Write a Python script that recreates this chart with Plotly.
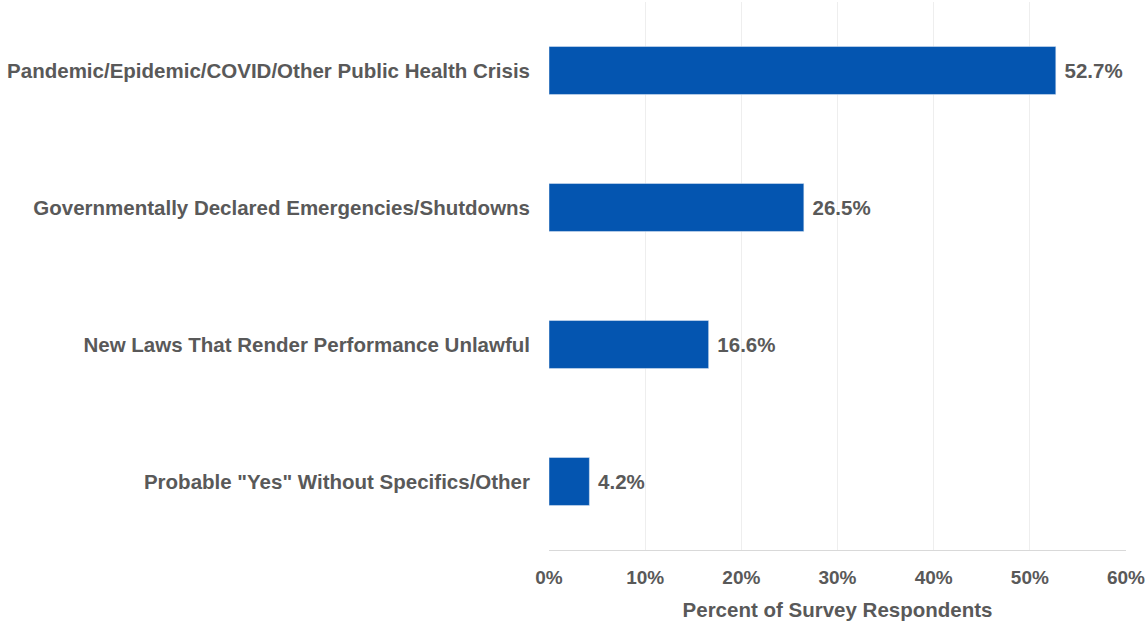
import plotly.graph_objects as go

categories = [
    "Pandemic/Epidemic/COVID/Other Public Health Crisis",
    "Governmentally Declared Emergencies/Shutdowns",
    "New Laws That Render Performance Unlawful",
    "Probable \"Yes\" Without Specifics/Other",
]
values = [52.7, 26.5, 16.6, 4.2]
tick_vals = [0, 10, 20, 30, 40, 50, 60]
tick_text = ["0%", "10%", "20%", "30%", "40%", "50%", "60%"]

FONT = "Liberation Sans, Arial, sans-serif"
GREY = "#595959"

fig = go.Figure(go.Bar(
    x=values,
    y=categories,
    orientation="h",
    width=0.35,
    marker=dict(color="#0455B0"),
    text=[f"{v:.1f}%" for v in values],
    texttemplate="<b> %{text}</b>",
    textposition="outside",
    textfont=dict(family=FONT, size=20.5, color=GREY),
    cliponaxis=False,
))

fig.update_layout(
    width=1146, height=622,
    margin=dict(l=549, r=20, t=2, b=72),
    paper_bgcolor="white", plot_bgcolor="white",
    showlegend=False,
    font=dict(family=FONT, size=18, color=GREY),
    xaxis=dict(
        range=[0, 60], tickvals=tick_vals, ticktext=[f"<b>{t}</b>" for t in tick_text],
        showgrid=True, gridcolor="#eeeeee", gridwidth=1,
        zeroline=False, showline=True, linecolor="#d9d9d9",
        tickfont=dict(family=FONT, size=19, color=GREY),
        ticks="", ticklabelstandoff=10,
        title=dict(text="<b>Percent of Survey Respondents</b>",
                   font=dict(family=FONT, size=20.5, color=GREY), standoff=15),
    ),
    yaxis=dict(
        autorange="reversed", showgrid=False, zeroline=False, showline=False,
        tickvals=categories, ticktext=[f"<b>{c}</b>" for c in categories],
        tickfont=dict(family=FONT, size=20.5, color=GREY),
        ticks="", ticklabelstandoff=18,
    ),
)

fig.write_html("out.html", config={"displayModeBar": False},
               post_script="document.body.style.margin='0';document.body.style.overflow='hidden';")
